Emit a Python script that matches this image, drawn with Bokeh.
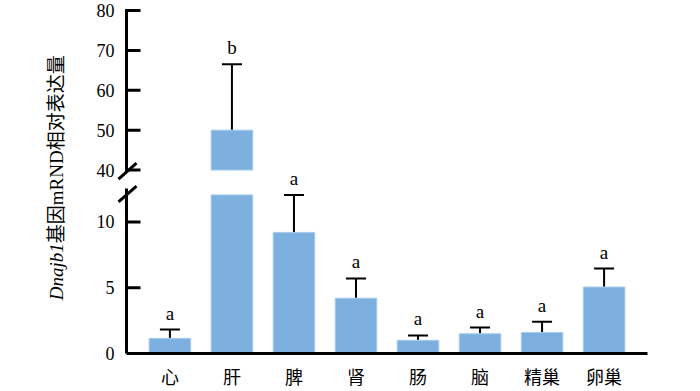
import math
from bokeh.plotting import figure
from bokeh.layouts import row
from bokeh.models import (Range1d, FixedTicker, ColumnDataSource, Whisker,
                          TeeHead, LabelSet)
from bokeh.core.properties import value
from bokeh.embed import file_html
from bokeh.resources import INLINE

# ---------------- data ----------------
categories = ["心", "肝", "脾", "肾", "肠", "脑", "精巢", "卵巢"]
means = [1.15, 50.0, 9.2, 4.2, 1.0, 1.5, 1.6, 5.05]
errors = [0.67, 16.5, 2.85, 1.5, 0.37, 0.47, 0.82, 1.4]
letters = ["a", "b", "a", "a", "a", "a", "a", "a"]
lower_ticks = [0, 5, 10]
upper_ticks = [40, 50, 60, 70, 80]

# ---------------- layout / style constants ----------------
BREAK_LOW = 12.05          # where broken bars stop in the lower segment
LOWER_AXIS_TOP = 12.42     # top end of the lower y-axis line
UPPER_MIN, UPPER_MAX = 40, 80
X_AXIS, X_END = -0.7, 7.7  # x of the drawn y-axis line, right end

BAR = "#7DB0DE"
BAR_EDGE = "#A6CBEE"
SERIF = "Liberation Serif"
CJK = "Noto Sans CJK SC"

LEFT_W = 80
PLOT_W, PLOT_H = 620, 391
BL, BR, BT, BB = 36, 53, 8, 37
AXIS_GAP = 10              # px between frame's left edge and drawn axis line
TICK_LEN = 14
BOT_PPY = 13.2             # px per unit, lower segment
TOP_PPY = 4.0              # px per unit, upper segment
UPPER_BASE_PX = 184        # px from frame bottom up to the upper segment's 40

FW = PLOT_W - BL - BR
FH = PLOT_H - BT - BB
PPX = (FW - AXIS_GAP) / (X_END - X_AXIS)
X_START = X_AXIS - AXIS_GAP / PPX
LOWER_END = FH / BOT_PPY
UPPER_START = UPPER_MIN - UPPER_BASE_PX / TOP_PPY
UPPER_END = UPPER_START + FH / TOP_PPY


def upper_to_lower(v):
    return (UPPER_BASE_PX + (v - UPPER_MIN) * TOP_PPY) / BOT_PPY


xs = list(range(len(categories)))
low_idx = [i for i in xs if means[i] <= BREAK_LOW]
up_idx = [i for i in xs if means[i] > BREAK_LOW]

low_bars = ColumnDataSource(dict(x=xs, top=[min(m, BREAK_LOW) for m in means]))
low_err = ColumnDataSource(dict(
    x=[xs[i] for i in low_idx],
    lower=[means[i] for i in low_idx],
    upper=[means[i] + errors[i] for i in low_idx],
    letter=[letters[i] for i in low_idx]))
up_src = ColumnDataSource(dict(
    x=[xs[i] for i in up_idx],
    top=[means[i] for i in up_idx],
    lower=[means[i] for i in up_idx],
    upper=[means[i] + errors[i] for i in up_idx],
    letter=[letters[i] for i in up_idx]))

p = figure(width=PLOT_W, height=PLOT_H, x_range=Range1d(X_START, X_END),
           y_range=Range1d(0, LOWER_END),
           toolbar_location=None, output_backend="svg",
           min_border_left=BL, min_border_right=BR,
           min_border_top=BT, min_border_bottom=BB,
           outline_line_color=None)
p.extra_y_ranges = {"upper": Range1d(UPPER_START, UPPER_END)}
p.grid.visible = False

# bars
p.vbar(x="x", top="top", bottom=0, width=0.67, source=low_bars,
       fill_color=BAR, line_color=BAR_EDGE, line_width=1)
p.vbar(x="x", top="top", bottom=UPPER_MIN, width=0.67, source=up_src,
       y_range_name="upper", fill_color=BAR, line_color=BAR_EDGE, line_width=1)


def add_whiskers(src, rname="default"):
    w = Whisker(source=src, base="x", lower="lower", upper="upper",
                dimension="height", line_width=2, line_color="black",
                upper_head=TeeHead(size=20, line_width=2, line_color="black"),
                lower_head=None, y_range_name=rname)
    p.add_layout(w)
    lab = LabelSet(source=src, x="x", y="upper", text="letter",
                   text_align="center", text_baseline="alphabetic",
                   y_offset=10, text_font=SERIF, text_font_size="19px",
                   text_color="black", y_range_name=rname)
    p.add_layout(lab)


add_whiskers(low_err)
add_whiskers(up_src, "upper")

# y-axis tick labels (one axis, upper values placed at their broken positions)
ya = p.yaxis[0]
up_pos = [upper_to_lower(v) for v in upper_ticks]
ya.ticker = FixedTicker(ticks=lower_ticks + up_pos)
ya.major_label_overrides = {pos: str(v) for pos, v in zip(up_pos, upper_ticks)}
ya.axis_line_color = None
ya.major_tick_line_color = None
ya.minor_tick_line_color = None
ya.major_tick_in = 0
ya.major_tick_out = 0
ya.major_label_standoff = 2
ya.major_label_text_font = SERIF
ya.major_label_text_font_size = "18px"
ya.major_label_text_color = "black"


def draw_y_axis(y0, y1, ticks, rname="default"):
    p.segment(x0=[X_AXIS], y0=[y0], x1=[X_AXIS], y1=[y1], y_range_name=rname,
              line_width=3, line_color="black", line_cap="square")
    p.segment(x0=[X_AXIS] * len(ticks), y0=ticks,
              x1=[X_AXIS + TICK_LEN / PPX] * len(ticks), y1=ticks,
              y_range_name=rname, line_width=3, line_color="black")


draw_y_axis(0, LOWER_AXIS_TOP, lower_ticks)
draw_y_axis(UPPER_MIN, UPPER_MAX, upper_ticks, "upper")

# x axis
xa = p.xaxis[0]
xa.bounds = (X_AXIS, X_END)
xa.ticker = FixedTicker(ticks=xs)
xa.major_label_overrides = {i: c for i, c in zip(xs, categories)}
xa.axis_line_width = 3
xa.axis_line_color = "black"
xa.major_tick_line_color = None
xa.major_tick_in = 0
xa.major_tick_out = 0
xa.minor_tick_line_color = None
xa.major_label_standoff = 9
xa.major_label_text_font = CJK
xa.major_label_text_font_size = "18px"
xa.major_label_text_color = "black"

# axis-break slashes (offsets in px around the axis line)
SLASH_HALF_W, SLASH_HALF_H = 9, 8
slash_centers = [UPPER_BASE_PX - 1, LOWER_AXIS_TOP * BOT_PPY - 4]  # px above frame bottom
for cy in slash_centers:
    p.segment(x0=[X_AXIS + (1 - SLASH_HALF_W) / PPX],
              y0=[(cy - SLASH_HALF_H) / BOT_PPY],
              x1=[X_AXIS + (1 + SLASH_HALF_W) / PPX],
              y1=[(cy + SLASH_HALF_H) / BOT_PPY],
              line_width=3, line_color="black")

# ---------------- y title ----------------
ttl = figure(width=LEFT_W, height=PLOT_H, x_range=Range1d(0, LEFT_W),
             y_range=Range1d(0, PLOT_H), x_axis_location=None,
             y_axis_location=None, min_border=0, toolbar_location=None,
             output_backend="svg", outline_line_color=None)
ttl.grid.visible = False
anchor_x, anchor_y = 56, PLOT_H - 266
ttl.text(x=[anchor_x], y=[anchor_y], text=["Dnajb1"], angle=math.pi / 2,
         text_align="right", text_baseline="middle",
         text_font=value(SERIF), text_font_style="italic",
         text_font_size="19px", text_color="black")
ttl.text(x=[anchor_x], y=[anchor_y], text=["基因mRND相对表达量"], angle=math.pi / 2,
         text_align="left", text_baseline="middle",
         text_font=value(SERIF + ", " + CJK),
         text_font_size="19px", text_color="black")

layout = row(ttl, p)
open("out.html", "w").write(file_html(layout, INLINE))
